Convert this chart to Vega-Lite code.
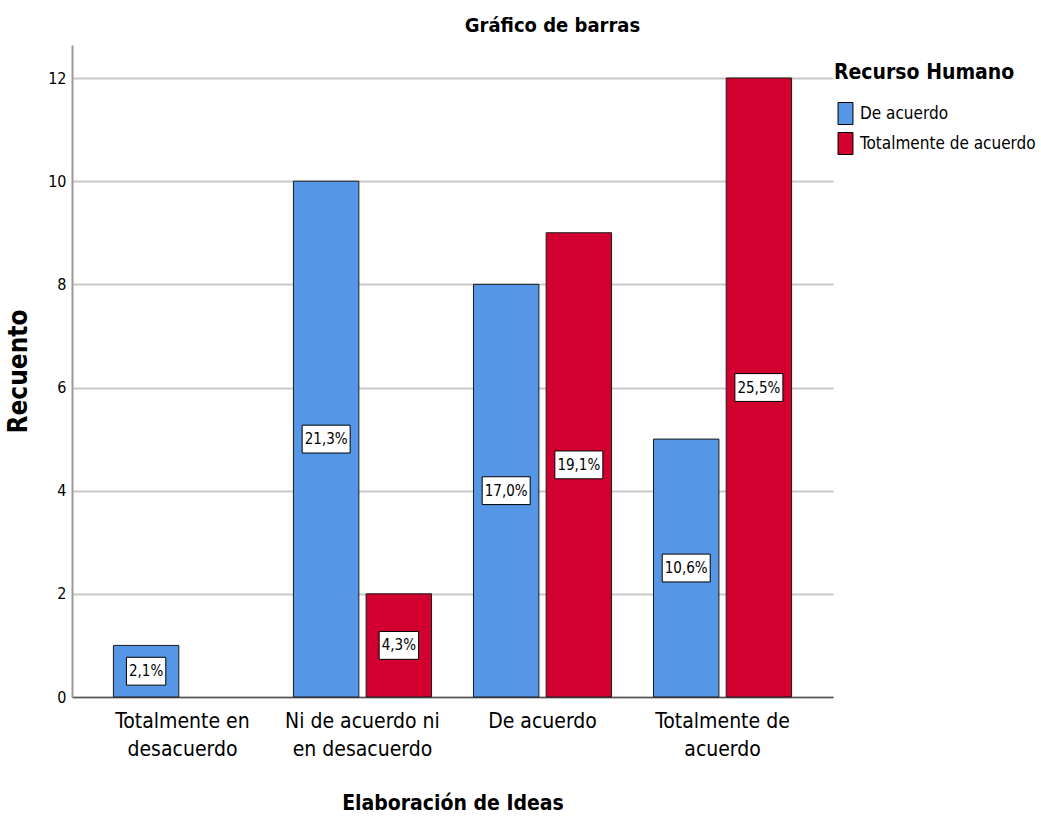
{
  "$schema": "https://vega.github.io/schema/vega-lite/v6.json",
  "width": 761,
  "height": 652,
  "autosize": {"type": "none"},
  "padding": {"left": 72, "top": 45, "right": 208, "bottom": 122},
  "background": "white",
  "config": {
    "view": {"stroke": null},
    "font": "DejaVu Sans Condensed, sans-serif"
  },
  "title": {
    "text": "Gráfico de barras",
    "fontSize": 20,
    "fontWeight": "bold",
    "color": "black",
    "anchor": "middle",
    "dx": 100,
    "offset": 9
  },
  "data": {
    "values": [
      {"categoria": "Totalmente en desacuerdo", "serie": "De acuerdo", "valor": 1, "pct": "2,1%"},
      {"categoria": "Ni de acuerdo ni en desacuerdo", "serie": "De acuerdo", "valor": 10, "pct": "21,3%"},
      {"categoria": "Ni de acuerdo ni en desacuerdo", "serie": "Totalmente  de acuerdo", "valor": 2, "pct": "4,3%"},
      {"categoria": "De acuerdo", "serie": "De acuerdo", "valor": 8, "pct": "17,0%"},
      {"categoria": "De acuerdo", "serie": "Totalmente  de acuerdo", "valor": 9, "pct": "19,1%"},
      {"categoria": "Totalmente de acuerdo", "serie": "De acuerdo", "valor": 5, "pct": "10,6%"},
      {"categoria": "Totalmente de acuerdo", "serie": "Totalmente  de acuerdo", "valor": 12, "pct": "25,5%"}
    ]
  },
  "encoding": {
    "x": {
      "field": "categoria",
      "type": "nominal",
      "sort": ["Totalmente en desacuerdo", "Ni de acuerdo ni en desacuerdo", "De acuerdo", "Totalmente de acuerdo"],
      "scale": {"paddingInner": 0.233, "paddingOuter": 0.23},
      "axis": {
        "title": "Elaboración de Ideas",
        "titleFontSize": 21,
        "titleFontWeight": "bold",
        "titleColor": "black",
        "titlePadding": 33,
        "labelAngle": 0,
        "labelFontSize": 21,
        "labelColor": "black",
        "labelPadding": 13,
        "labelLineHeight": 28,
        "labelExpr": "datum.value == 'Totalmente en desacuerdo' ? ['Totalmente en', 'desacuerdo'] : datum.value == 'Ni de acuerdo ni en desacuerdo' ? ['Ni de acuerdo ni', 'en desacuerdo'] : datum.value == 'Totalmente de acuerdo' ? ['Totalmente  de', 'acuerdo'] : datum.value",
        "ticks": false,
        "domainColor": "#555555",
        "domainWidth": 1.5,
        "grid": false
      }
    },
    "xOffset": {
      "field": "serie",
      "type": "nominal",
      "sort": ["De acuerdo", "Totalmente  de acuerdo"],
      "scale": {"domain": ["De acuerdo", "Totalmente  de acuerdo"], "paddingInner": 0.1}
    }
  },
  "layer": [
    {
      "mark": {"type": "bar", "stroke": "#1a1a1a", "strokeWidth": 1},
      "encoding": {
        "y": {
          "field": "valor",
          "type": "quantitative",
          "scale": {"domain": [0, 12.64], "nice": false},
          "axis": {
            "title": "Recuento",
            "titleFontSize": 26,
            "titleFontWeight": "bold",
            "titleColor": "black",
            "titlePadding": 16,
            "values": [0, 2, 4, 6, 8, 10, 12],
            "labelFontSize": 16,
            "labelColor": "black",
            "labelPadding": 6,
            "ticks": false,
            "domainColor": "#999999",
            "domainWidth": 2,
            "grid": true,
            "gridColor": "#c8c8c8",
            "gridWidth": 2
          }
        },
        "color": {
          "field": "serie",
          "type": "nominal",
          "scale": {"domain": ["De acuerdo", "Totalmente  de acuerdo"], "range": ["#5596E6", "#D2002E"]},
          "legend": {
            "title": "Recurso Humano",
            "orient": "none",
            "legendX": 762,
            "legendY": 17,
            "titleFontSize": 21,
            "titleFontWeight": "bold",
            "titleColor": "black",
            "titlePadding": 19,
            "titleLimit": 400,
            "labelLimit": 400,
            "labelFontSize": 17,
            "labelColor": "black",
            "labelOffset": 3,
            "symbolType": "M-0.68,-1H0.68V1H-0.68Z",
            "symbolSize": 484,
            "symbolStrokeColor": "black",
            "symbolStrokeWidth": 1,
            "symbolFillOpacity": 1,
            "rowPadding": 3
          }
        }
      }
    },
    {
      "mark": {"type": "point", "filled": true, "fill": "white", "stroke": "black", "strokeWidth": 1, "opacity": 1},
      "encoding": {
        "y": {"field": "valor", "type": "quantitative", "scale": {"domain": [0, 25.28], "nice": false}, "axis": null},
        "shape": {
          "condition": {"test": "length(datum.pct) > 4", "value": "M-1,-0.58H1V0.58H-1Z"},
          "value": "M-0.82,-0.58H0.82V0.58H-0.82Z"
        },
        "size": {"value": 2304}
      }
    },
    {
      "mark": {"type": "text", "fontSize": 15, "color": "black", "baseline": "middle", "align": "center"},
      "encoding": {
        "y": {"field": "valor", "type": "quantitative", "scale": {"domain": [0, 25.28], "nice": false}, "axis": null},
        "text": {"field": "pct"}
      }
    }
  ],
  "resolve": {"scale": {"y": "independent"}}
}
